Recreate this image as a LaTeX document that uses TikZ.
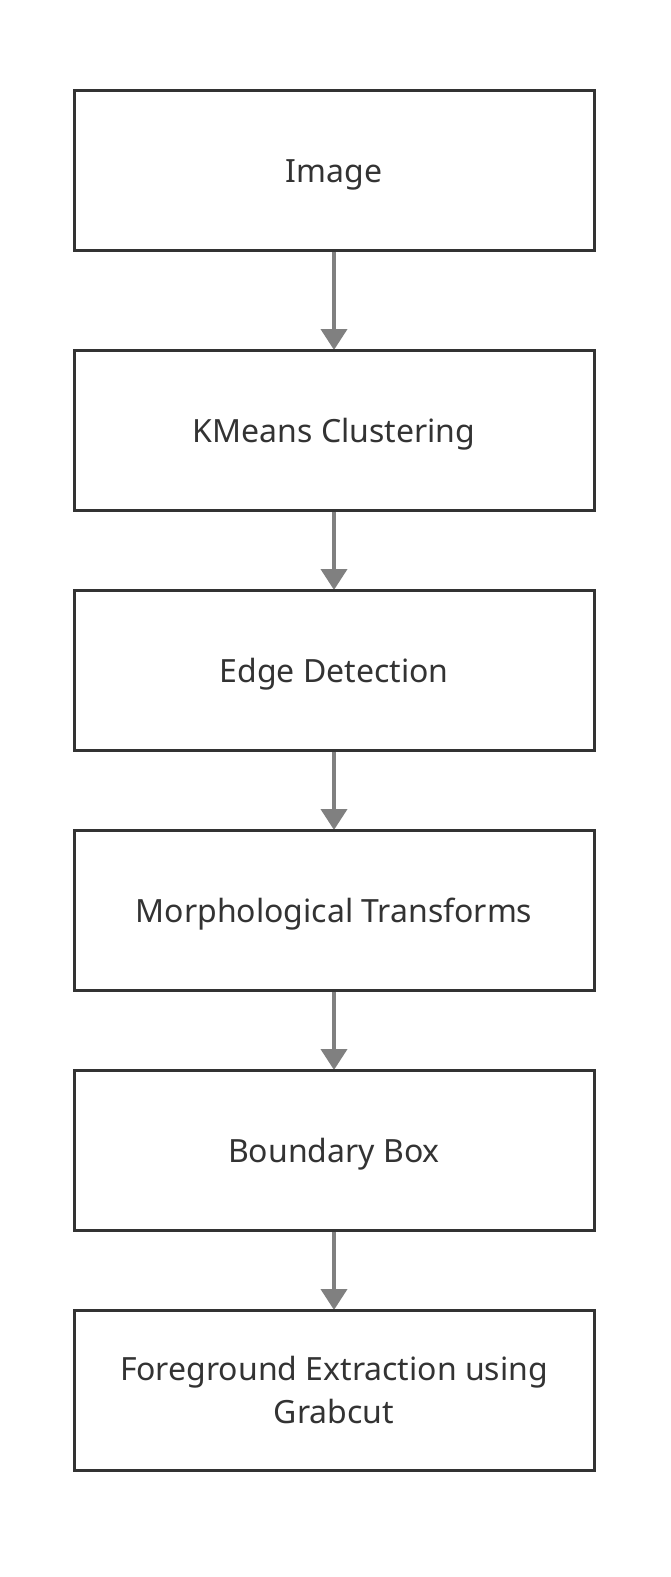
\documentclass[tikz,border=0pt]{standalone}
\usepackage{fontspec}
\setmainfont{Noto Sans}
\usetikzlibrary{arrows.meta}
\pgfdeclarelayer{edgelayer}
\pgfdeclarelayer{nodelayer}
\pgfsetlayers{edgelayer,nodelayer,main}
\definecolor{boxline}{HTML}{333333}
\definecolor{flowline}{HTML}{808080}
\tikzset{font=\fontsize{32}{43}\selectfont}
\tikzstyle{stepbox}=[draw=boxline,line width=3pt,fill=white,text=boxline,minimum width=520pt,minimum height=160pt,inner sep=0pt,outer sep=0pt,align=center]
\tikzstyle{oneline}=[text height=34pt,text depth=9pt]
\tikzstyle{flow}=[draw=flowline,line width=4pt,-{Triangle[width=26pt,length=21pt]}]

\begin{document}
\begin{tikzpicture}[x=1pt,y=-1pt]
	\useasboundingbox (0,0) rectangle (671,1577);
	\begin{pgfonlayer}{nodelayer}
		\node [style=stepbox,style=oneline] (0) at (334, 170) {Image};
		\node [style=stepbox,style=oneline] (1) at (334, 430) {KMeans Clustering};
		\node [style=stepbox,style=oneline] (2) at (334, 670) {Edge Detection};
		\node [style=stepbox,style=oneline] (3) at (334, 910) {Morphological Transforms};
		\node [style=stepbox,style=oneline] (4) at (334, 1150) {Boundary Box};
		\node [style=stepbox] (5) at (334, 1390) {Foreground Extraction using\\Grabcut};
	\end{pgfonlayer}
	\begin{pgfonlayer}{edgelayer}
		\draw [style=flow] (0) to (1);
		\draw [style=flow] (1) to (2);
		\draw [style=flow] (2) to (3);
		\draw [style=flow] (3) to (4);
		\draw [style=flow] (4) to (5);
	\end{pgfonlayer}
\end{tikzpicture}
\end{document}
